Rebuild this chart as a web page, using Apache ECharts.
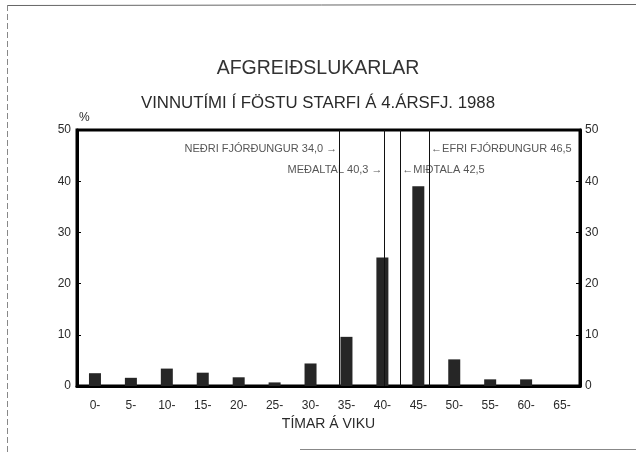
<!DOCTYPE html>
<html><head><meta charset="utf-8">
<script src="https://cdn.jsdelivr.net/npm/echarts@6/dist/echarts.min.js"></script>
<style>html,body{margin:0;padding:0;background:#fff}#c{width:636px;height:453px}</style>
</head><body><div id="c"></div>
<script>
const categories = ['0-','5-','10-','15-','20-','25-','30-','35-','40-','45-','50-','55-','60-','65-'];
const percent = [2.5, 1.6, 3.4, 2.6, 1.7, 0.7, 4.4, 9.6, 25.1, 39.0, 5.2, 1.3, 1.3, 0];
const yTicks = [0, 10, 20, 30, 40, 50];
const statValues = [34.0, 40.3, 42.5, 46.5];
const statLabels = ['NEÐRI FJÓRÐUNGUR 34,0 →', 'MEÐALTAL 40,3 →', '←MIÐTALA 42,5', '←EFRI FJÓRÐUNGUR 46,5'];
const statLabelY = [46.2, 42.1, 42.1, 46.2];
const statSide = ['left', 'left', 'right', 'right'];

const FONT = 'Liberation Sans';
const chart = echarts.init(document.getElementById('c'), null, {renderer: 'canvas'});
const txt = '#2a2a2a';
chart.setOption({
  animation: false,
  backgroundColor: '#fff',
  title: [
    {text: 'AFGREIÐSLUKARLAR', left: 'center', top: 54, textStyle: {fontFamily: FONT, fontSize: 19.5, fontWeight: 'normal', color: '#333'}},
    {text: 'VINNUTÍMI Í FÖSTU STARFI Á 4.ÁRSFJ. 1988', left: 'center', top: 90, textStyle: {fontFamily: FONT, fontSize: 16.8, fontWeight: 'normal', color: txt}}
  ],
  grid: {left: 77, right: 56, top: 130, bottom: 67, show: true, borderColor: '#000', borderWidth: 3, backgroundColor: 'transparent'},
  xAxis: [
    {type: 'category', data: categories, boundaryGap: true,
     axisLine: {onZero: false, lineStyle: {color: '#000', width: 3}}, axisTick: {show: false},
     axisLabel: {fontFamily: FONT, fontSize: 12, color: txt, margin: 14},
     name: 'TÍMAR Á VIKU', nameLocation: 'middle', nameGap: 31,
     nameTextStyle: {fontFamily: FONT, fontSize: 14, color: txt}},
    {type: 'value', min: -2.5, max: 67.5, show: false}
  ],
  yAxis: [
    {type: 'value', min: 0, max: 50, interval: 10, position: 'left',
     axisLine: {show: true, onZero: false, lineStyle: {color: '#000', width: 3}},
     axisTick: {show: true, inside: true, length: 4, lineStyle: {color: '#000'}},
     splitLine: {show: false},
     axisLabel: {fontFamily: FONT, fontSize: 12, color: txt, margin: 6, formatter: v => yTicks.includes(v) ? String(v) : ''},
     name: '%', nameLocation: 'end', nameGap: 6,
     nameTextStyle: {fontFamily: FONT, fontSize: 12, color: txt, align: 'left', padding: [0, 0, 0, 2]}},
    {type: 'value', min: 0, max: 50, interval: 10, position: 'right',
     axisLine: {show: true, onZero: false, lineStyle: {color: '#000', width: 3}},
     axisTick: {show: true, inside: true, length: 4, lineStyle: {color: '#000'}},
     splitLine: {show: false},
     axisLabel: {fontFamily: FONT, fontSize: 12, color: txt, margin: 5}}
  ],
  series: [
    {type: 'bar', xAxisIndex: 0, yAxisIndex: 0, data: percent, barWidth: 12,
     itemStyle: {color: '#262626'}},
    {type: 'scatter', xAxisIndex: 1, yAxisIndex: 0, symbolSize: 0,
     data: statValues.map((v, i) => ({value: [v, statLabelY[i]],
       label: {show: true, position: statSide[i], distance: 2, formatter: statLabels[i],
               fontFamily: FONT, fontSize: 11, color: txt}})),
     markLine: {symbol: 'none', silent: true, label: {show: false},
       lineStyle: {color: '#111', width: 1, type: 'solid'},
       data: statValues.map(v => ({xAxis: v}))}}
  ],
  graphic: [
    {type: 'line', shape: {x1: 7, y1: 5.5, x2: 636, y2: 4.5}, style: {stroke: '#666', lineWidth: 1}},
    {type: 'line', shape: {x1: 7.5, y1: 5, x2: 7.5, y2: 453}, style: {stroke: '#888', lineWidth: 1, lineDash: [6, 3]}},
    {type: 'line', shape: {x1: 300, y1: 449.5, x2: 636, y2: 449.5}, style: {stroke: '#888', lineWidth: 1}}
  ]
});
</script></body></html>
